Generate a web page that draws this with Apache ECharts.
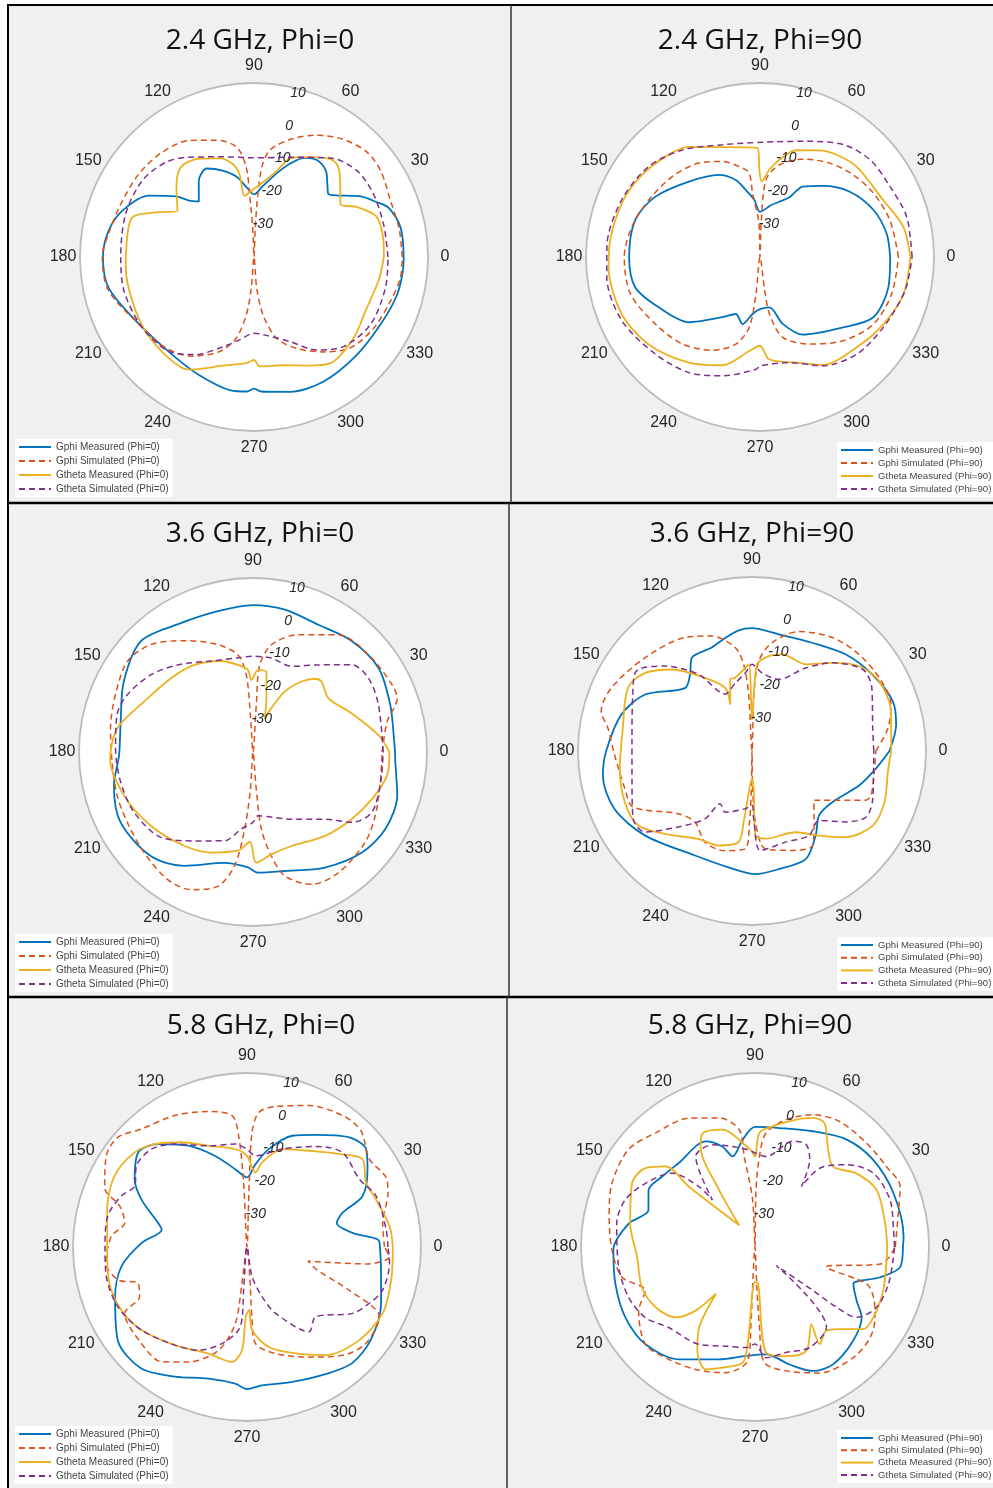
<!DOCTYPE html>
<html>
<head>
<meta charset="utf-8">
<title>Radiation patterns</title>
<script src="https://cdn.jsdelivr.net/npm/echarts@6/dist/echarts.min.js"></script>
<style>
  html, body { margin: 0; padding: 0; background: #ffffff; }
  #chart { width: 993px; height: 1488px; }
</style>
</head>
<body>
<div id="chart"></div>
<script>
// Trace colours (MATLAB default colour order)
const COLORS = ['#0072BD', '#D95319', '#EDB120', '#7E2F8E'];
const SERIES_LABELS = ['Gphi Measured', 'Gphi Simulated', 'Gtheta Measured', 'Gtheta Simulated'];
const PANEL_TITLES = ['2.4 GHz, Phi=0', '2.4 GHz, Phi=90', '3.6 GHz, Phi=0', '3.6 GHz, Phi=90', '5.8 GHz, Phi=0', '5.8 GHz, Phi=90'];
const PANEL_PHI = ['0', '90', '0', '90', '0', '90'];
const ANGLE_TICKS = [0, 30, 60, 90, 120, 150, 180, 210, 240, 270, 300, 330];
const RADIAL_TICKS = [-30, -20, -10, 0, 10];
const RADIAL_MIN = -40;
const RADIAL_MAX = 10;

// Gain patterns, each point is [theta (deg), gain (dB)]
// ---- 2.4 GHz, Phi=0 ----
const f24p0GphiMeas = [[0,3],[11,3],[20,1.2],[24,-1.3],[30,-5],[34,-8.5],[40,-12],[45,-10.2],[50,-7.8],[57,-6.8],[63,-8],[69,-11.3],[75,-15.2],[83,-19.5],[90,-22],[96,-19.9],[102,-16.5],[110,-13.6],[118,-11.2],[126,-13],[134.8,-17.5],[139,-15.3],[142,-11.7],[149.7,-5],[160.6,0.1],[170,2.5],[180,3.4],[192,2.7],[210,-1.7],[230,-3.4],[245,-2.6],[260,-1.1],[267,-1.3],[270,-2.2],[273,-1.3],[285,0.1],[299,1],[316,0.8],[332,1.2],[345,2.5],[356,3],[360,3]];
const f24p0GphiSim = [[0,2.6],[11,2.5],[22,2.4],[34,4],[43,4.3],[53,2.4],[63,-0.7],[73,-4.7],[81.6,-9],[85,-14],[86.5,-22],[87.5,-31.5],[90,-40],[92.5,-31.5],[94,-22],[95,-14],[99,-8],[108,-4.7],[119,-1.7],[131,0],[144,0.8],[160,1.3],[176,3.2],[180,3.6],[193,2.9],[212,-2],[226,-3.6],[238,-6.4],[250,-11.1],[257.6,-16.1],[262.4,-23.2],[265,-31],[270,-40],[275,-31],[279,-23],[285.5,-15.8],[295,-11],[306,-6.3],[316.5,-2],[329,0],[342,1.2],[352,2.5],[360,2.6]];
const f24p0GthetaMeas = [[0,-2.7],[4,-2.6],[18,-2.9],[26,-7.2],[31.6,-10.9],[39,-8.1],[47,-4.5],[52,-4.3],[62,-7.5],[70,-9.9],[75,-14.3],[83,-18.3],[90,-20.4],[98.7,-22.2],[100,-15.7],[103,-12.5],[109,-10],[119,-7.7],[129,-6.7],[138,-10],[148.8,-14.3],[155.6,-9],[162,-3.2],[176,-3.2],[185,-3],[200,-2.8],[214.5,-2.2],[230,-2],[240,-2.6],[254,-7.5],[265.8,-9.4],[270,-10.4],[273,-8.5],[285,-7.8],[296,-5.3],[305.6,-2.4],[321,-3.1],[334,-4.4],[350,-3.5],[360,-2.7]];
const f24p0GthetaSim = [[0,-1.5],[14,-1.6],[28,-1.2],[40,-1.4],[52.5,-4.1],[70,-9.5],[90,-11.5],[107,-9.9],[123,-5.8],[133,-2.8],[145.6,-1.1],[161.5,-1.1],[180,-1.7],[195,-1.4],[212.5,-2],[228,-3.5],[239,-7.3],[251,-12.7],[260,-15.8],[270,-18.1],[279,-17.2],[293,-13.6],[304,-7.8],[315,-3.6],[330,-1.3],[347,-1.2],[360,-1.5]];

// ---- 2.4 GHz, Phi=90 ----
const f24p90GphiMeas = [[0,-2.6],[10.5,-3],[22.5,-4.7],[36,-8.1],[48.4,-12.7],[58.6,-16.3],[64,-21],[70.6,-23.1],[78,-24.8],[90,-27],[95.7,-23.5],[102,-20.3],[107.4,-16.8],[116.5,-13.6],[133.3,-10.2],[150,-5.3],[163.5,-2.6],[180,-2.4],[193.6,-3.1],[206.4,-7.5],[222.6,-12.3],[238,-19.6],[247,-22.2],[255.4,-20.1],[262.6,-23.5],[270,-25],[280.6,-25.3],[288.8,-19.7],[298.9,-14.5],[319.7,-8.7],[332,-3.1],[346.8,-2.1],[360,-2.6]];
const f24p90GphiSim = [[0,-0.2],[15.8,-1.2],[29.3,-2.6],[41.4,-4.3],[53.4,-6.4],[66.3,-9.3],[78,-12.9],[85.5,-17.7],[88,-30],[90,-40],[92,-30],[96.6,-21.6],[97.3,-15.7],[101,-14],[111.5,-10.5],[123,-7.8],[137.5,-5.8],[152.9,-4.1],[166.7,-2.2],[180,-1],[195.9,-1.3],[212.7,-4.3],[228.3,-6.5],[242.9,-9.9],[254.5,-14],[261.3,-19.6],[263.8,-29.3],[270,-40],[278,-31.2],[279.4,-23.4],[285.8,-16],[299.7,-11.2],[314.8,-6.1],[329.4,-2.1],[344.4,-0.7],[360,-0.2]];
const f24p90GthetaMeas = [[0,3.2],[11.9,2.1],[24.8,-1],[43.2,-2],[53.2,-3.3],[60.8,-4.9],[71.2,-7.6],[78.7,-11.5],[83.9,-14.8],[88.7,-18.3],[90.4,-15],[91.2,-8.7],[108.9,-6.6],[122.9,-2.3],[131.7,-0.6],[145.2,1.3],[158.8,2.6],[176,3.4],[183.8,3.6],[202.4,3],[218,0.7],[236,-3.4],[251,-7.1],[263.5,-12.8],[270,-14.5],[275,-10.5],[288.9,-7.9],[300.3,-4.1],[316.8,-2],[331.5,0.4],[345.6,2.6],[360,3.2]];
const f24p90GthetaSim = [[0,3.7],[15.3,3.7],[28.4,2.5],[41.5,2.2],[53.5,0.2],[68.2,-4.2],[88.7,-7],[108.5,-6],[126,-2],[140.9,1.2],[157.6,3],[176,4.1],[187.5,4.4],[204.8,3.7],[222.9,1],[238.4,-1],[252.5,-4.2],[268,-7.7],[270,-8.7],[285.6,-8.5],[300,-3.9],[314.8,-0.6],[330.3,0.8],[347,2.8],[360,3.7]];

// ---- 3.6 GHz, Phi=0 ----
const f36p0GphiMeas = [[0,0.8],[5.4,0.7],[18.9,1.7],[33.7,3.4],[48.2,2.7],[62.8,1.1],[77.4,1.9],[90,2.2],[104,1.7],[120.6,2.6],[135.4,5.3],[151.4,2.3],[167.2,-1],[181.4,-1.5],[193.5,1.1],[208,3.1],[225.5,1.9],[238.9,-1.8],[255.6,-7.1],[267.5,-6.8],[272.4,-5.3],[285,-4.6],[301.9,-0.9],[317.3,2.6],[329.8,4],[343.2,3.3],[356,1],[360,0.8]];
const f36p0GphiSim = [[0,-2.9],[12.7,-0.5],[20.4,4.2],[25.7,4.4],[40,3.4],[53.9,1.7],[68.9,-3.9],[80.2,-8.7],[85.6,-14.9],[86,-26.5],[90,-40],[94,-29.4],[95,-17.7],[98.8,-11.8],[108.2,-7.5],[121.7,-2.4],[133.6,2.6],[144.2,4.5],[157.5,2.8],[170.6,1.5],[184,0.6],[197.8,1],[209.2,1.4],[222.7,2.6],[236.1,4.1],[245.7,3.4],[255.3,-0.1],[260.8,-6.9],[263.8,-17.7],[266,-29.3],[270,-40],[275,-29.4],[276.2,-17.7],[280,-9.7],[284.4,-3.2],[293.9,1.6],[305.3,2.5],[321,1.4],[332.5,-0.4],[346.7,-2.4],[360,-2.9]];
const f36p0GthetaMeas = [[0,-0.8],[7.6,-3.6],[21.3,-9.5],[35.4,-13.4],[45.7,-11.8],[49.7,-12.4],[55.4,-15.4],[62.2,-20.3],[67,-26],[70.7,-29.8],[76,-24.1],[80.5,-16.6],[86.5,-16.4],[91.3,-19.3],[93.5,-16.4],[99.8,-14.6],[109.3,-12.3],[124,-9.8],[138,-8.3],[155.2,-5.5],[170.2,-0.4],[182.7,1.1],[198.7,-0.9],[215.8,-3.8],[233.8,-6.6],[247.4,-8.7],[261.3,-11.3],[268,-14.2],[271.7,-8.2],[280.2,-10.1],[292.3,-10.8],[310.7,-8.2],[325.9,-5.7],[338.5,-3.2],[350,-0.9],[360,-0.8]];
const f36p0GthetaSim = [[0,-2.6],[20.5,-1.5],[32.5,-0.6],[41.4,-2.1],[53.1,-8.7],[65.7,-13],[78.9,-12.5],[90,-12.5],[99,-12.6],[114.7,-11.2],[130.9,-6.9],[143,-3.2],[155.6,-0.3],[164.8,0.5],[178.6,-0.5],[192.8,-1],[206.9,-1.7],[222.8,-3.9],[236.6,-9.4],[252.2,-13.2],[261.3,-17.6],[270,-19.8],[274.5,-21.6],[300,-17.7],[317,-11.7],[324.6,-5.1],[333,-1.7],[346.7,-2.3],[360,-2.6]];

// ---- 3.6 GHz, Phi=90 ----
const f36p90GphiMeas = [[0,-0.5],[10.3,2.1],[19.4,2.9],[32.3,1],[45.8,-1.3],[60.9,-4.4],[77,-5.6],[90,-4.7],[96.3,-5.1],[103.3,-6.6],[111.3,-8.1],[122.9,-8.1],[129,-11.7],[136.8,-13.6],[152.3,-5.2],[164.5,-1],[180,1.9],[189.2,3.4],[202.8,2.9],[218.2,-0.8],[241.4,-5.8],[258.6,-5.9],[271.6,-4.6],[282.8,-5.2],[296.4,-5.3],[307,-9.6],[316.2,-13.3],[327.7,-12.6],[342.3,-7.6],[352,-4],[360,-0.5]];
const f36p90GphiSim = [[0,-4.4],[9.5,-0.4],[18.4,2.1],[29.8,2.2],[42,1.4],[54.6,0],[68.5,-3.1],[79.5,-8.3],[85.7,-14.1],[88,-23.8],[90,-40],[93.4,-23.8],[95.5,-15],[99.2,-9.9],[109.3,-5],[120.6,-2.1],[139,0.8],[155.9,4.3],[165.3,4.8],[171,1.9],[181.7,-0.5],[196.4,-1.9],[205.2,-2.2],[220.4,-12.2],[231.3,-13.8],[242.8,-10.5],[254.9,-10.3],[266,-11.8],[268,-19.6],[269,-29.2],[270,-40],[271,-29.2],[272.7,-19.6],[277.8,-11.6],[292,-9.2],[302.5,-7.7],[312.5,-13.6],[321.5,-17.3],[336.6,-4.4],[339.6,-3.5],[350.4,-4.4],[360,-4.4]];
const f36p90GthetaMeas = [[0,0],[3.9,0.1],[15.9,1.5],[28.7,1.7],[38.3,-0.7],[47.6,-5.7],[58.2,-10.7],[72.6,-10.9],[80,-12.3],[86.7,-15.1],[90,-31],[92.2,-15.1],[97.2,-16.9],[103,-18.4],[107,-18.5],[115.2,-25.3],[113,-20.3],[122.7,-15],[134.6,-7.1],[144,-1.9],[153,0],[170,-2.3],[187.5,-1.7],[201.8,-0.6],[213.1,-0.9],[223.5,-5.4],[238.6,-10.4],[250.5,-11.2],[261.6,-13.5],[263.3,-19.5],[266,-29],[270,-32],[272.5,-29.2],[272.3,-15.7],[278.7,-14.5],[298.2,-13.5],[308.4,-9],[317.5,-3.4],[328.3,0.8],[339,0.8],[351.3,-0.5],[360,0]];
const f36p90GthetaSim = [[0,-5],[10.7,-4.7],[27.7,-1.1],[36.4,-0.5],[47.6,-5.7],[57.2,-11.6],[69.4,-18],[82.7,-17.4],[90,-15.1],[94.9,-17.5],[103.8,-19.9],[115.2,-21.9],[125,-13.1],[135.8,-5],[145.4,0.4],[154.7,-2.1],[175.5,-5.4],[194.4,-4.4],[209.6,-0.7],[217.1,-1.4],[225.9,-9.6],[235.3,-16.3],[238.8,-22.3],[246.3,-20.8],[263.4,-23.3],[270,-24.4],[271.4,-20.5],[274.8,-11.3],[290.2,-12.1],[304,-10.7],[314,-12.3],[322.9,-6.2],[330,-2.1],[338.5,-2.7],[355,-4.9],[360,-5]];

// ---- 5.8 GHz, Phi=0 ----
const f58p0GphiMeas = [[0,-1.8],[3.2,-2.3],[7.6,-9.4],[15,-13.3],[19.7,-10.8],[23.8,-3.7],[32.8,1.2],[39.4,4.3],[47,3.1],[58.5,-2.2],[67.9,-5.5],[77.5,-11.2],[84.2,-16.1],[90,-20],[98.6,-17.4],[109.3,-12.3],[120,-6.4],[130.8,-0.9],[139,1.4],[148.9,-2.3],[155.7,-6.7],[164.8,-13.5],[168.5,-15],[177.8,-9.7],[188.8,-3.5],[200.6,0.5],[215.8,5.8],[229,6.3],[240.9,2.6],[253.7,-0.6],[265.1,-0.6],[270,0.8],[276.2,0],[288.5,0.9],[302,3],[312,5],[323,4.5],[337.2,1.8],[351.7,-1.1],[360,-1.8]];
const f58p0GphiSim = [[0,-0.5],[10,-0.4],[21,3.4],[26.5,4.7],[35.7,3.3],[45.6,6.8],[54,6.7],[66.3,4.4],[78.6,1.2],[85,-1.2],[87.5,-7],[88,-21.5],[90,-40],[93,-21.5],[94.3,-7.9],[96.5,-2],[105.9,0.5],[118.7,3.1],[131.8,5.5],[139.7,8.7],[147,8.2],[157.4,4.3],[162.2,-1.6],[168.8,-4.2],[175.5,-0.9],[186.5,0.8],[194.3,-1.8],[198.4,-7],[204.8,-6],[208.5,0],[222.4,1.1],[233.4,1.1],[243,-2.9],[254.6,-9.2],[261.3,-17.7],[262,-29.5],[270,-40],[275,-29.6],[274,-19.9],[275,-12.2],[285,-8.3],[299.4,-3.7],[311.4,1.5],[320.9,4],[332.2,3],[337,-8],[342,-19],[347,-22],[352,-5],[356,1],[360,-0.5]];
const f58p0GthetaMeas = [[0,1.9],[8.3,1.4],[20.2,-0.5],[28.4,-1.1],[37.2,1.7],[44.2,-1.8],[57.2,-7.1],[70.2,-10.1],[79.9,-15.3],[83.6,-18.5],[90,-13.8],[96.8,-11.7],[110.8,-8.9],[122,-4.5],[131.9,-0.3],[140,2.2],[151.8,3.2],[165,1.6],[181,0.2],[194.8,0.9],[206.6,0.4],[218.2,-1.4],[233.7,-5],[250.1,-7.4],[262.5,-6.7],[267.2,-10.3],[269,-20],[272,-21.9],[273.5,-16.1],[282.3,-10.6],[294.5,-6.4],[306,-1.6],[320.3,1.9],[333.9,3.4],[347.2,2.5],[360,1.9]];
const f58p0GthetaSim = [[0,0.5],[7.1,0.3],[21.5,-0.1],[31.1,-2.3],[44.7,-1.4],[55.7,-5],[70.2,-10.1],[84.7,-13.7],[90,-11.9],[96.5,-10.2],[110.8,-8.9],[125,-3.9],[134.3,-0.7],[143.7,-0.6],[151.5,-3.3],[157.9,-1],[167.5,1],[180,0.8],[191.8,1.3],[204.8,0.9],[218.2,-1.4],[233.7,-5],[244.8,-7.2],[255.4,-11.3],[265.2,-17],[265.5,-27.7],[270,-40],[279.7,-31.4],[286.9,-25.1],[293.2,-19.3],[306.2,-9.8],[314.6,-11.9],[327.8,-4.2],[335.3,-1.3],[342.5,0.9],[353.6,1.2],[360,0.5]];

// ---- 5.8 GHz, Phi=90 ----
const f58p90GphiMeas = [[0,2.5],[3.9,2.8],[21.2,2.7],[36.4,2.2],[49.5,0.6],[63.4,-2.8],[78.4,-5.1],[90,-5.5],[96.6,-9],[103.9,-13.2],[107.9,-9.7],[115,-6.5],[132.2,-7.4],[142.8,-6.5],[151.8,-5.3],[161,-7.6],[169.5,-3.1],[181,0.7],[194.8,1.5],[208.5,2.4],[221.6,2.1],[235.9,-1],[252.3,-6.1],[265.3,-8.6],[275.9,-9],[286.4,-4.8],[295,-0.7],[303.6,0.5],[316.3,-1],[326.6,-3.3],[332.2,-7],[339.4,-9.8],[346.4,-3],[352.1,2.1],[360,2.5]];
const f58p90GphiSim = [[0,0.3],[14.4,2.6],[22.6,5.2],[31.4,4.3],[42.9,3.8],[56,3.5],[66.3,1.5],[76.2,-2.3],[84.5,-7.1],[87.2,-14],[89,-23.6],[90,-40],[93,-26],[96.8,-13.8],[97.6,-6],[105.5,-1.5],[117.1,1.6],[131.1,3.5],[142.4,5.9],[156,5],[168.3,2.8],[181.3,1.1],[192.8,-0.8],[201.7,-6.1],[208.7,-1.9],[221.6,2.1],[232.5,0.7],[244.1,-0.9],[256.9,-2.9],[266.3,-7.2],[267,-17.8],[266.4,-29.4],[270,-40],[272.6,-29.4],[273.2,-17.8],[274.6,-6.7],[284.1,-3.3],[297.2,0.7],[311.6,2.5],[321.8,2.1],[329.6,0],[337,-3],[341.7,-6.2],[344.3,-18.7],[352.5,-3.3],[360,0.3]];
const f58p90GthetaMeas = [[0,-2],[10.2,-2],[25.1,-1.4],[36,-4],[45.8,-7.8],[53.1,-5],[60.7,0.8],[65.8,0.7],[73.4,-2],[81.6,-4.9],[87.8,-7.2],[90,-14],[92.4,-12.1],[96.8,-9.9],[102,-6.5],[105.5,-5],[114.8,-4],[118.4,-7.1],[122.2,-20.6],[125.9,-32.3],[137.6,-14.3],[138,-5.4],[144.3,-1.2],[152.6,-0.2],[169.3,-3.5],[184.9,-6],[199.6,-5.5],[211.2,-6.6],[221.5,-9.5],[227,-15],[230.1,-22.5],[235.2,-11.9],[240.9,-5.9],[248,-2.1],[254.9,-4.1],[263.9,-6.6],[265.7,-12],[266.9,-27.5],[270,-30],[275,-29.4],[276,-9.5],[285.9,-7.4],[296.3,-6.7],[306.1,-12.5],[303.6,-6.5],[310.4,-8.4],[315.9,-6.1],[322.8,-1],[329.3,-0.4],[341.3,-1.1],[355.6,-2],[360,-2]];
const f58p90GthetaSim = [[0,0.1],[6.9,0.1],[19.2,1.1],[31.9,0.1],[41.9,-4.6],[50.6,-10.7],[52.5,-18.1],[57.9,-10.4],[63.4,-7.1],[70.3,-7.7],[83,-13.8],[90,-13],[93.4,-12.1],[102.6,-10.4],[112.6,-8.2],[123.2,-8.9],[132.2,-21.8],[132.9,-16.3],[138.3,-8.1],[149.8,-3.6],[160.1,-0.3],[170.4,0.3],[188.4,-0.4],[201.7,-0.9],[212.7,-2.5],[223,-6.1],[240,-7.7],[253.6,-10.3],[264.9,-11],[270,-12.1],[275.7,-8],[286.4,-8.4],[298.5,-7.1],[311.6,-9.1],[318.9,-31.9],[323.1,-19.2],[323.5,-10.9],[325.3,-4.5],[333.6,-1],[344.5,-0.2],[355.8,-0.1],[360,0.1]];

const PANEL_CURVES = [
  [f24p0GphiMeas, f24p0GphiSim, f24p0GthetaMeas, f24p0GthetaSim],
  [f24p90GphiMeas, f24p90GphiSim, f24p90GthetaMeas, f24p90GthetaSim],
  [f36p0GphiMeas, f36p0GphiSim, f36p0GthetaMeas, f36p0GthetaSim],
  [f36p90GphiMeas, f36p90GphiSim, f36p90GthetaMeas, f36p90GthetaSim],
  [f58p0GphiMeas, f58p0GphiSim, f58p0GthetaMeas, f58p0GthetaSim],
  [f58p90GphiMeas, f58p90GphiSim, f58p90GthetaMeas, f58p90GthetaSim]
];

// Page layout: polar centres, title rows and legend boxes
const R = 174;
const LAYOUT = [
  { cx: 254, cy: 257,  titleX: 260, titleTop: 27,   legLeft: 15,  legTop: 439,  legGap: 4,   legFont: 10 },
  { cx: 760, cy: 257,  titleX: 760, titleTop: 27,   legLeft: 837, legTop: 442,  legGap: 3,   legFont: 9.6 },
  { cx: 253, cy: 752,  titleX: 260, titleTop: 520,  legLeft: 15,  legTop: 934,  legGap: 4,   legFont: 10 },
  { cx: 752, cy: 751,  titleX: 752, titleTop: 520,  legLeft: 837, legTop: 937,  legGap: 2.7, legFont: 9.6 },
  { cx: 247, cy: 1247, titleX: 261, titleTop: 1012, legLeft: 15,  legTop: 1426, legGap: 4,   legFont: 10 },
  { cx: 755, cy: 1247, titleX: 750, titleTop: 1012, legLeft: 837, legTop: 1430, legGap: 2.3, legFont: 9.6 }
];

const FONT_AXIS = 'Liberation Sans, Arial, sans-serif';
const FONT_TITLE = 'Open Sans, Noto Sans, sans-serif';

const polar = [], angleAxis = [], radiusAxis = [], series = [], title = [], legend = [];

LAYOUT.forEach((L, i) => {
  // data polar
  polar.push({ center: [L.cx, L.cy], radius: R });
  // polar used only to place the radial tick labels along the 75 deg ray
  polar.push({ center: [L.cx, L.cy], radius: R - 4 });
  const dataIdx = 2 * i, labelIdx = 2 * i + 1;

  angleAxis.push({
    polarIndex: dataIdx, type: 'value', min: 0, max: 360, interval: 30,
    startAngle: 0, clockwise: false,
    axisLine: { show: true, lineStyle: { color: '#bcbcbc', width: 1.8 } },
    axisTick: { show: false },
    axisLabel: {
      show: true, margin: 15,
      formatter: v => ANGLE_TICKS.includes(v) ? `{a|${v}}` : '',
      rich: {
        a: { width: 4, height: 4, align: 'center', verticalAlign: 'middle',
             color: '#262626', fontSize: 16, fontFamily: FONT_AXIS }
      }
    },
    splitLine: { show: true, lineStyle: { color: '#dadada', width: 1 } },
    splitArea: { show: true, areaStyle: { color: ['#ffffff'] } }
  });
  angleAxis.push({
    polarIndex: labelIdx, type: 'value', min: 0, max: 360, startAngle: 75, clockwise: false,
    show: false
  });

  radiusAxis.push({
    polarIndex: dataIdx, type: 'value', min: RADIAL_MIN, max: RADIAL_MAX, interval: 10,
    axisLine: { show: false }, axisTick: { show: false }, axisLabel: { show: false },
    splitLine: { show: true, lineStyle: { color: '#dadada', width: 1 } }
  });
  radiusAxis.push({
    polarIndex: labelIdx, type: 'value', min: RADIAL_MIN, max: RADIAL_MAX, interval: 10,
    axisLine: { show: false }, axisTick: { show: false }, splitLine: { show: false },
    axisLabel: {
      show: true, margin: 0, align: 'center', verticalAlign: 'middle',
      color: '#262626', fontSize: 14, fontStyle: 'italic', fontFamily: FONT_AXIS,
      formatter: v => RADIAL_TICKS.includes(v) ? String(v) : ''
    },
    z: 5
  });

  title.push({
    text: PANEL_TITLES[i], left: L.titleX, top: L.titleTop, textAlign: 'center', padding: 0,
    textStyle: { fontFamily: FONT_TITLE, fontSize: 28, fontWeight: 'normal', color: '#111111' }
  });

  const names = SERIES_LABELS.map(s => `${s} (Phi=${PANEL_PHI[i]})`);
  legend.push({
    data: names, orient: 'vertical', left: L.legLeft, top: L.legTop,
    itemWidth: 32, itemHeight: 10, itemGap: L.legGap,
    padding: [3, 4, 3, 3], backgroundColor: '#ffffff', borderWidth: 0,
    selectedMode: false,
    itemStyle: { color: 'rgba(0,0,0,0)', borderColor: 'rgba(0,0,0,0)', borderWidth: 0, opacity: 0 },
    textStyle: { fontSize: L.legFont, color: '#444444', fontFamily: FONT_AXIS, lineHeight: 10 }
  });

  PANEL_CURVES[i].forEach((curve, j) => {
    const dashed = j % 2 === 1;
    series.push({
      type: 'line', coordinateSystem: 'polar', polarIndex: dataIdx,
      name: names[j],
      data: curve.map(p => [Math.max(p[1], RADIAL_MIN), p[0]]),
      symbol: 'none', showSymbol: false, smooth: 0.3,
      lineStyle: { color: COLORS[j], width: dashed ? 1.5 : 1.8, type: dashed ? [6, 4] : 'solid' },
      itemStyle: { color: COLORS[j] },
      z: 2 + j
    });
  });
});

// Panel frame: white page margin, outer frame and cell dividers
const graphic = [
  { type: 'rect', shape: { x: 0, y: 0, width: 993, height: 4 }, style: { fill: '#ffffff' }, silent: true },
  { type: 'rect', shape: { x: 0, y: 0, width: 7, height: 1488 }, style: { fill: '#ffffff' }, silent: true },
  { type: 'line', shape: { x1: 7, y1: 5, x2: 993, y2: 5 }, style: { stroke: '#000', lineWidth: 2 }, silent: true },
  { type: 'line', shape: { x1: 8, y1: 4, x2: 8, y2: 1488 }, style: { stroke: '#000', lineWidth: 2 }, silent: true },
  { type: 'line', shape: { x1: 8, y1: 503, x2: 993, y2: 503 }, style: { stroke: '#000', lineWidth: 2.5 }, silent: true },
  { type: 'line', shape: { x1: 8, y1: 997, x2: 993, y2: 997 }, style: { stroke: '#000', lineWidth: 2.5 }, silent: true },
  { type: 'line', shape: { x1: 511, y1: 5, x2: 511, y2: 503 }, style: { stroke: '#333', lineWidth: 1.5 }, silent: true },
  { type: 'line', shape: { x1: 509, y1: 503, x2: 509, y2: 997 }, style: { stroke: '#333', lineWidth: 1.5 }, silent: true },
  { type: 'line', shape: { x1: 507, y1: 997, x2: 507, y2: 1488 }, style: { stroke: '#333', lineWidth: 1.5 }, silent: true }
];

const chart = echarts.init(document.getElementById('chart'), null, { renderer: 'canvas', width: 993, height: 1488 });
chart.setOption({
  backgroundColor: '#f0f0f0',
  animation: false,
  title, legend, polar, angleAxis, radiusAxis, series, graphic
});
</script>
</body>
</html>
